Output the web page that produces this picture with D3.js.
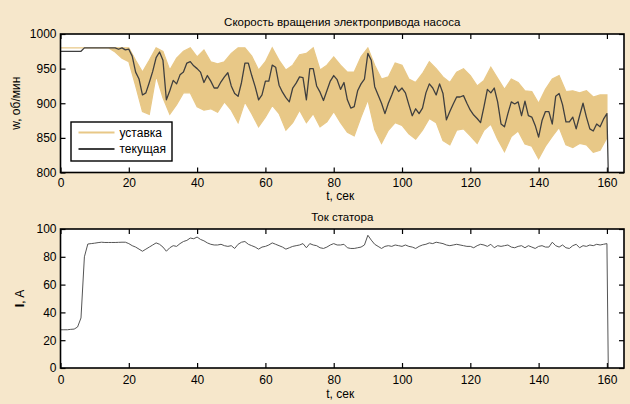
<!DOCTYPE html>
<html>
<head>
<meta charset="utf-8">
<script src="https://cdn.jsdelivr.net/npm/d3@7"></script>
<style>
  body { margin: 0; background: #f6e7cb; }
  svg { display: block; font-family: "Liberation Sans", Arial, sans-serif; }
</style>
</head>
<body>
<div id="chart"></div>
<script>
// pump drive speed + stator current, two stacked panels

// ---- data ----
const timeSec = d3.range(0, 161);        // 1 s sampling
const envTime = d3.range(0, 161, 2);     // setpoint envelope, 2 s sampling
const endTime = 160.4;                   // moment the drive is switched off

const xTicks     = [0, 20, 40, 60, 80, 100, 120, 140, 160];
const speedTicks = [800, 850, 900, 950, 1000];
const ampTicks   = [0, 20, 40, 60, 80, 100];

const seriesNames = ["уставка", "текущая"];

// setpoint band (upper / lower edge of the fast oscillation), rpm
const setHi = [
  980, 980, 980, 980, 980, 980, 980, 980, 980, 980,
  980, 962, 945, 962, 980, 975, 948, 965, 975, 980,
  967, 977, 960, 957, 960, 972, 980, 980, 968, 948,
  960, 980, 962, 948, 955, 970, 972, 980, 948, 955,
  967, 955, 945, 945, 967, 980, 955, 935, 938, 958,
  955, 935, 930, 943, 960, 950, 938, 930, 945, 950,
  940, 925, 933, 952, 936, 920, 935, 930, 918, 917,
  900, 920, 935, 940, 917, 918, 915, 918, 909, 912,
  912
];
const setLo = [
  980, 980, 980, 980, 980, 980, 980, 980, 974, 965,
  960, 925, 888, 884, 940, 908, 884, 898, 915, 915,
  895, 890, 892, 887, 902, 890, 872, 902, 885, 866,
  880, 897, 885, 861, 872, 890, 872, 885, 866, 873,
  888, 872, 858, 853, 880, 905, 862, 842, 861, 872,
  868, 856, 848, 861, 878, 872, 846, 840, 861, 863,
  853, 842, 861, 870, 848, 830, 852, 860, 841, 838,
  820, 838, 852, 865, 840, 836, 842, 840, 829, 832,
  850
];

// actual speed, rpm
const speedCur = [
  975, 975, 975, 975, 975, 975, 975, 980, 980, 980,
  980, 980, 980, 980, 980, 980, 980, 978, 980, 977,
  978, 968, 945, 935, 912, 915, 930, 946, 966, 974,
  962, 905, 918, 933, 928, 941, 945, 958, 960, 954,
  950, 945, 930, 940, 932, 922, 922, 931, 938, 944,
  925, 914, 910, 930, 958, 958, 940, 924, 905, 912,
  932, 932, 955, 952, 926, 916, 908, 902, 922, 929,
  938, 937, 905, 950, 950, 925, 916, 904, 918, 932,
  940, 934, 920, 930, 905, 893, 895, 918, 928, 935,
  972, 962, 924, 912, 900, 885, 900, 912, 925, 917,
  922, 915, 898, 882, 892, 885, 893, 915, 928, 922,
  912, 928, 914, 876, 888, 899, 909, 909, 911, 900,
  890, 883, 878, 872, 895, 920, 915, 922, 902, 870,
  866, 885, 902, 899, 902, 882, 903, 882, 880, 868,
  851, 875, 888, 888, 870, 910, 914, 898, 873, 873,
  880, 863, 882, 900, 880, 863, 860, 870, 866, 877,
  885
];
const speedEnd = 800;

// stator current, A
const statorAmp = [
  27.5, 27.5, 27.5, 27.8, 28, 29.5, 36, 80, 89.2, 89.5,
  89.8, 90.2, 90.5, 90.3, 90.3, 90.3, 90.3, 90.4, 90.5, 90.5,
  89.5, 88, 87, 85.5, 84, 85.5, 87, 88.5, 90, 89,
  87, 84, 86.5, 88, 87.5, 89.5, 91, 91.8, 93.5, 93,
  94.2, 92.5, 91.5, 90, 89, 88.5, 88.5, 89, 88, 87.5,
  88, 86, 89, 90.5, 91, 89, 88, 87, 85.5, 87,
  87.5, 88.5, 90, 89, 88, 87, 85.5, 86.5, 87.5, 88,
  88.5, 89.5, 86.5, 89.5, 88.5, 88, 86.5, 86, 87, 88.5,
  89.5, 88.5, 88.5, 89, 86.5, 86, 86, 86.5, 87, 88.5,
  95.5, 92, 89, 87.5, 86, 87.5, 88, 87.5, 88.5, 88,
  87.5, 88.5, 87.5, 87, 86, 87.5, 88.5, 89, 90, 89.5,
  90.5, 90, 89.5, 88.5, 88, 88.5, 89, 88.5, 88, 87.5,
  87.5, 86.5, 88, 89, 88.5, 87.5, 89, 86.5, 88, 87.5,
  88, 88.5, 87, 86.5, 87.5, 88, 86.5, 88, 87, 86,
  87.5, 88, 87, 87, 90.5, 88, 87, 88.5, 86.5, 86,
  88, 89, 86.5, 88, 87.5, 88.5, 88, 89, 88.5, 89,
  89.5
];
const ampEnd = 0;

// ---- layout ----
const W = 630, H = 404;
const xLeft = 60.5, xRight = 624;
const top1 = 34, bot1 = 172.5;
const top2 = 229, bot2 = 368;

const SET_COLOR = "#e8c887";
const CUR_COLOR = "#3f3f3f";

const svg = d3.select("#chart").append("svg")
  .attr("width", W).attr("height", H);

svg.append("rect").attr("width", W).attr("height", H).attr("fill", "#f6e7cb");

const x = d3.scaleLinear().domain([0, 165]).range([xLeft, xRight]);
const ySpeed = d3.scaleLinear().domain([800, 1000]).range([bot1, top1]);
const yAmp = d3.scaleLinear().domain([0, 100]).range([bot2, top2]);

const plain = d3.format("d");

function panel(y, top, bot, yTickVals, id, labelPad) {
  svg.append("rect")
    .attr("x", xLeft).attr("y", top)
    .attr("width", xRight - xLeft).attr("height", bot - top)
    .attr("fill", "#fff");

  svg.append("clipPath").attr("id", id)
    .append("rect")
    .attr("x", xLeft).attr("y", top - 1)
    .attr("width", xRight - xLeft).attr("height", bot - top + 2);

  const g = svg.append("g");
  // bottom axis with labels, ticks inward
  g.append("g").attr("transform", `translate(0,${bot})`)
    .call(d3.axisBottom(x).tickValues(xTicks).tickFormat(plain)
      .tickSize(-5).tickSizeOuter(0).tickPadding(labelPad));
  // top ticks
  g.append("g").attr("transform", `translate(0,${top})`)
    .call(d3.axisTop(x).tickValues(xTicks).tickSize(-5).tickSizeOuter(0).tickFormat(""));
  // left axis with labels
  g.append("g").attr("transform", `translate(${xLeft},0)`)
    .call(d3.axisLeft(y).tickValues(yTickVals).tickFormat(plain)
      .tickSize(-5).tickSizeOuter(0).tickPadding(4));
  // right ticks
  g.append("g").attr("transform", `translate(${xRight},0)`)
    .call(d3.axisRight(y).tickValues(yTickVals).tickSize(-5).tickSizeOuter(0).tickFormat(""));

  g.selectAll(".domain").remove();
  g.selectAll(".tick line").attr("stroke", "#000").attr("stroke-width", 1.2);
  g.selectAll(".tick text")
    .attr("fill", "#000")
    .style("font-size", "12px")
    .style("font-family", "'Liberation Sans', Arial, sans-serif");

  return g;
}

function frame(top, bot) {
  svg.append("rect")
    .attr("x", xLeft).attr("y", top)
    .attr("width", xRight - xLeft).attr("height", bot - top)
    .attr("fill", "none")
    .attr("stroke", "#000")
    .attr("stroke-width", 1.6);
}

// ================= top panel: speed =================
panel(ySpeed, top1, bot1, speedTicks, "clipTop", 6);

const band = envTime.map((t, i) => ({ t, hi: setHi[i], lo: setLo[i] }));

svg.append("path")
  .datum(band)
  .attr("clip-path", "url(#clipTop)")
  .attr("fill", SET_COLOR)
  .attr("stroke", SET_COLOR)
  .attr("stroke-width", 1.2)
  .attr("d", d3.area()
    .x(d => x(d.t))
    .y0(d => ySpeed(d.lo))
    .y1(d => ySpeed(d.hi)));

const speedPts = timeSec.map((t, i) => ({ t, v: speedCur[i] }));
speedPts.push({ t: endTime, v: speedEnd });

svg.append("path")
  .datum(speedPts)
  .attr("clip-path", "url(#clipTop)")
  .attr("fill", "none")
  .attr("stroke", CUR_COLOR)
  .attr("stroke-width", 1.3)
  .attr("stroke-linejoin", "round")
  .attr("d", d3.line().x(d => x(d.t)).y(d => ySpeed(d.v)));

frame(top1, bot1);

// legend
const leg = svg.append("g");
leg.append("rect")
  .attr("x", 71).attr("y", 122).attr("width", 101).attr("height", 39)
  .attr("fill", "#fff").attr("stroke", "#000").attr("stroke-width", 1.4);
[SET_COLOR, CUR_COLOR].forEach((c, i) => {
  const ly = 132.5 + i * 16.5;
  leg.append("line")
    .attr("x1", 78.5).attr("x2", 114.5).attr("y1", ly).attr("y2", ly)
    .attr("stroke", c).attr("stroke-width", 2);
  leg.append("text")
    .attr("x", 119.5).attr("y", ly + 4.3)
    .style("font-size", "12px")
    .text(seriesNames[i]);
});

svg.append("text")
  .attr("x", (xLeft + xRight) / 2).attr("y", 26)
  .attr("text-anchor", "middle").style("font-size", "11.5px")
  .text("Скорость вращения электропривода насоса");

svg.append("text")
  .attr("x", (xLeft + xRight) / 2 - 2).attr("y", 200)
  .attr("text-anchor", "middle").style("font-size", "12px")
  .text("t, сек");

svg.append("text")
  .attr("transform", `translate(20,${(top1 + bot1) / 2}) rotate(-90)`)
  .attr("text-anchor", "middle").style("font-size", "12px")
  .text("w, об/мин");

// ================= bottom panel: stator current =================
panel(yAmp, top2, bot2, ampTicks, "clipBot", 7.5);

const ampPts = timeSec.map((t, i) => ({ t, v: statorAmp[i] }));
ampPts.push({ t: endTime, v: ampEnd });

svg.append("path")
  .datum(ampPts)
  .attr("clip-path", "url(#clipBot)")
  .attr("fill", "none")
  .attr("stroke", "#555")
  .attr("stroke-width", 1)
  .attr("stroke-linejoin", "round")
  .attr("d", d3.line().x(d => x(d.t)).y(d => yAmp(d.v)));

frame(top2, bot2);

svg.append("text")
  .attr("x", (xLeft + xRight) / 2).attr("y", 221)
  .attr("text-anchor", "middle").style("font-size", "11.5px")
  .text("Ток статора");

svg.append("text")
  .attr("x", (xLeft + xRight) / 2 - 2).attr("y", 398)
  .attr("text-anchor", "middle").style("font-size", "12px")
  .text("t, сек");

const ampLabel = svg.append("text")
  .attr("transform", `translate(24,${(top2 + bot2) / 2}) rotate(-90)`)
  .attr("text-anchor", "middle").style("font-size", "12px");
ampLabel.append("tspan").style("font-weight", "bold").style("font-size", "13px").text("I");
ampLabel.append("tspan").text(", A");
</script>
</body>
</html>
